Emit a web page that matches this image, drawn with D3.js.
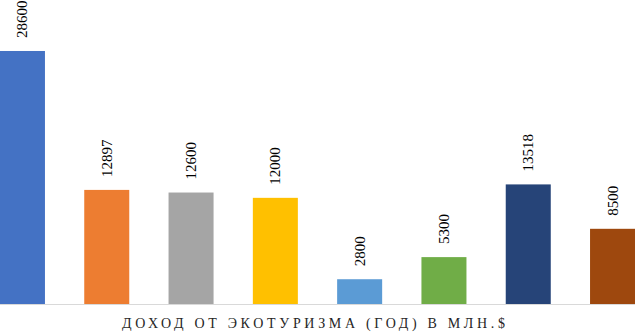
<!DOCTYPE html>
<html>
<head>
<meta charset="utf-8">
<script src="https://cdn.jsdelivr.net/npm/d3@7"></script>
<style>
  html, body { margin: 0; padding: 0; background: #fff; }
  svg { display: block; }
</style>
</head>
<body>
<svg id="chart" width="635" height="332"></svg>
<script>
// values
const categories = ["c1", "c2", "c3", "c4", "c5", "c6", "c7", "c8"];
const values = [28600, 12897, 12600, 12000, 2800, 5300, 13518, 8500];
const colors = ["#4472C4", "#ED7D31", "#A5A5A5", "#FFC000", "#5B9BD5", "#70AD47", "#264478", "#9E480E"];
const axis_title = "ДОХОД ОТ ЭКОТУРИЗМА (ГОД) В МЛН.$";

const chart_w = 635;
const font = 'Liberation Serif';
// text is set at 20px and scaled down, small sizes fell back to sans
const base_size = 20;
// plot area runs a bit past the left/right edges (chart is cropped)
const plot = {left: -19.7, right: 654.7, top: 38.6, bottom: 304};

const svg = d3.select('#chart');

const x = d3.scaleBand()
  .domain(categories)
  .range([plot.left, plot.right])
  .paddingInner(0.466)
  .paddingOuter(0.233);

const y = d3.scaleLinear()
  .domain([0, 30000])
  .range([plot.bottom, plot.top]);

function draw() {
  svg.selectAll('*').remove();

  // bars
  svg.append('g')
    .selectAll('rect')
    .data(values)
    .enter().append('rect')
      .attr('x', (d, i) => x(categories[i]))
      .attr('y', d => y(d))
      .attr('width', x.bandwidth())
      .attr('height', d => y(0) - y(d))
      .attr('fill', (d, i) => colors[i]);

  // baseline
  svg.append('line')
    .attr('x1', 0).attr('x2', chart_w)
    .attr('y1', y(0) + 0.5).attr('y2', y(0) + 0.5)
    .attr('stroke', '#D9D9D9')
    .attr('stroke-width', 1);

  // value labels, rotated (15px on screen)
  const label_scale = 15 / base_size;
  svg.append('g')
    .selectAll('text')
    .data(values)
    .enter().append('text')
      .attr('transform', (d, i) => `translate(${x(categories[i]) + x.bandwidth() / 2 + 5}, ${y(d) - 13}) rotate(-90) scale(${label_scale})`)
      .attr('font-family', font)
      .attr('font-size', base_size)
      .attr('fill', '#000')
      .text(d => d);

  // axis title (14px on screen), spaced out to span the reference width
  const title_left = 122, title_right = 505;
  const title_scale = 14 / base_size;
  const title = svg.append('text')
    .attr('transform', `translate(${title_left}, 328) scale(${title_scale})`)
    .attr('font-family', font)
    .attr('font-size', base_size)
    .attr('fill', '#262626')
    .text(axis_title);
  const natural = title.node().getComputedTextLength();
  const spacing = ((title_right - title_left) / title_scale - natural) / (axis_title.length - 1);
  title.attr('letter-spacing', spacing);
}

draw();
// local font can resolve late; redraw once it is ready
if (document.fonts && document.fonts.load) {
  document.fonts.load(`${base_size}px "${font}"`, axis_title).then(draw);
}
</script>
</body>
</html>
